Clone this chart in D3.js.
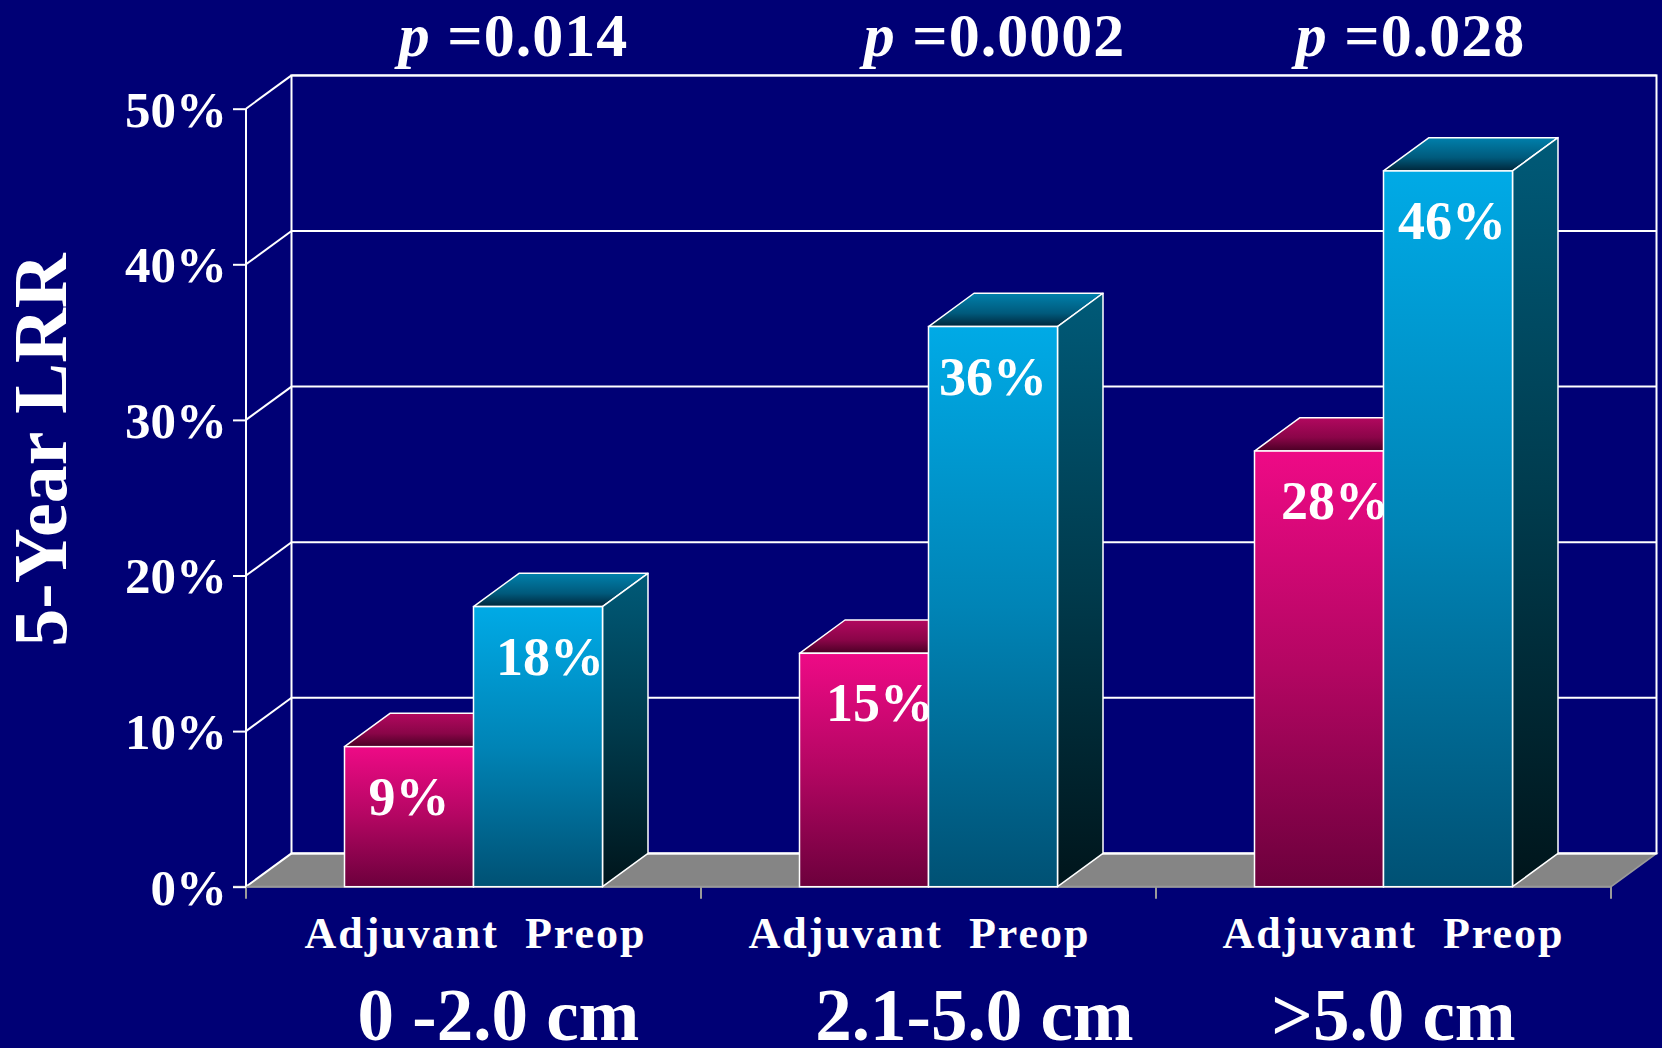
<!DOCTYPE html>
<html>
<head>
<meta charset="utf-8">
<script src="https://cdn.jsdelivr.net/npm/d3@7"></script>
<style>
  html, body { margin: 0; padding: 0; background: #000075; }
  svg { display: block; }
  text { font-family: "Liberation Serif", "Times New Roman", serif; font-weight: bold; fill: #fff; }
</style>
</head>
<body>
<svg id="chart" width="1662" height="1048"></svg>
<script>
// Five-year local-regional recurrence by tumour size and treatment sequence
const categories = ["0 -2.0 cm", "2.1-5.0 cm", ">5.0 cm"];
const series = ["Adjuvant", "Preop"];
const adjuvant = [9, 15, 28];
const preop = [18, 36, 46];
const pValues = ["0.014", "0.0002", "0.028"];
const yTicks = [0, 10, 20, 30, 40, 50];

// layout tweaks for the text blocks (px, relative to each band centre)
const pNudge = [40, 66, 27];
const sizeNudge = [25, 46, 10];
const pairNudge = [2, -9, 10];
const valueNudge = [[0, 12], [16, 0], [16, 4]];

const W = 1662, H = 1048;
const x0 = 246, x1 = 1611;          // front edge of the floor
const yBase = 886.7, yTop = 108.7;  // front 0% and 50%
const DX = 45.5, DY = 33.3;         // depth of the 3D box

const svg = d3.select("#chart");
svg.append("rect").attr("width", W).attr("height", H).attr("fill", "#000075");

const y = d3.scaleLinear().domain([0, 50]).range([yBase, yTop]);
const x = d3.scaleBand().domain(categories).range([x0, x1]).padding(0);
const xs = d3.scaleBand().domain(series).range([98.5, x.bandwidth() - 98.5]).padding(0);

// gradients
const defs = svg.append("defs");
function grad(id, stops) {
  const g = defs.append("linearGradient").attr("id", id)
    .attr("x1", 0).attr("y1", 0).attr("x2", 0).attr("y2", 1);
  stops.forEach(([o, c]) => g.append("stop").attr("offset", o).attr("stop-color", c));
}
grad("pinkFront", [[0, "#ee0a86"], [0.5, "#b30662"], [1, "#6c003c"]]);
grad("pinkTop", [[0, "#b2085f"], [0.6, "#8a0548"], [1, "#4a0025"]]);
grad("pinkSide", [[0, "#5a0030"], [1, "#1a0010"]]);
grad("blueFront", [[0, "#00aae6"], [0.5, "#0084b6"], [1, "#005174"]]);
grad("blueTop", [[0, "#0080ac"], [0.6, "#005a7c"], [1, "#00263a"]]);
grad("blueSide", [[0, "#005a78"], [0.5, "#003a4c"], [1, "#00151b"]]);

const wall = svg.append("g");
const line = (xa, ya, xb, yb, col, w) =>
  wall.append("line").attr("x1", xa).attr("y1", ya).attr("x2", xb).attr("y2", yb)
    .attr("stroke", col).attr("stroke-width", w);

// floor
wall.append("path")
  .attr("d", `M${x0},${yBase} L${x0 + DX},${yBase - DY} L${x1 + DX},${yBase - DY} L${x1},${yBase} Z`)
  .attr("fill", "#858585").attr("stroke", "#9a9a9a").attr("stroke-width", 1.5);

// back wall frame and gridlines
wall.append("rect")
  .attr("x", x0 + DX).attr("y", y(50) - DY)
  .attr("width", x1 - x0).attr("height", y(0) - y(50))
  .attr("fill", "none").attr("stroke", "#fff").attr("stroke-width", 2);
yTicks.forEach(t => {
  line(x0 + DX, y(t) - DY, x1 + DX, y(t) - DY, "#fff", 2);
  line(x0, y(t), x0 + DX, y(t) - DY, "#fff", 2);
});

// front axis with category dividers
line(x0 - 13, yBase, x1, yBase, "#9a9a9a", 2);
[x0, ...categories.map(c => x(c) + x.bandwidth())].forEach(v => line(v, yBase, v, yBase + 12, "#9a9a9a", 2));

// y axis
const yAxis = svg.append("g").attr("transform", `translate(${x0},0)`)
  .call(d3.axisLeft(y).tickValues(yTicks).tickSize(13).tickPadding(6).tickFormat(d => d + "%"));
yAxis.select(".domain").attr("stroke", "#fff").attr("stroke-width", 2).attr("d", `M0,${yBase}V${yTop}`);
yAxis.selectAll(".tick line").attr("stroke", "#fff").attr("stroke-width", 2);
yAxis.selectAll(".tick text")
  .style("font-family", '"Liberation Serif", serif').style("font-weight", "bold")
  .attr("font-size", 51).attr("fill", "#fff").attr("dy", "0.34em");

// bars
const rows = categories.map((c, i) => ({ c, i, vals: [adjuvant[i], preop[i]] }));
const kinds = ["pink", "blue"];
rows.forEach(r => {
  const g = svg.append("g");
  r.vals.forEach((v, s) => {
    const k = kinds[s];
    const bx = x(r.c) + xs(series[s]);
    const bw = xs.bandwidth();
    const ty = y(v);
    g.append("path")
      .attr("d", `M${bx},${ty} L${bx + DX},${ty - DY} L${bx + bw + DX},${ty - DY} L${bx + bw},${ty} Z`)
      .attr("fill", `url(#${k}Top)`).attr("stroke", "#fff").attr("stroke-width", 1.5).attr("stroke-linejoin", "round");
    g.append("path")
      .attr("d", `M${bx + bw},${ty} L${bx + bw + DX},${ty - DY} L${bx + bw + DX},${yBase - DY} L${bx + bw},${yBase} Z`)
      .attr("fill", `url(#${k}Side)`).attr("stroke", "#fff").attr("stroke-width", 1.5).attr("stroke-linejoin", "round");
    g.append("rect")
      .attr("x", bx).attr("y", ty).attr("width", bw).attr("height", yBase - ty)
      .attr("fill", `url(#${k}Front)`).attr("stroke", "#fff").attr("stroke-width", 1.5);
  });
  r.vals.forEach((v, s) => {
    const bx = x(r.c) + xs(series[s]) + xs.bandwidth() / 2 + valueNudge[r.i][s];
    g.append("text").attr("x", bx).attr("y", y(v) + 68)
      .attr("text-anchor", "middle").attr("font-size", 54).text(v + "%");
  });
});

// series names, size groups and p-values per band
categories.forEach((c, i) => {
  svg.append("text")
    .attr("x", x(c) + x.bandwidth() / 2 + pairNudge[i]).attr("y", 948)
    .attr("text-anchor", "middle").attr("font-size", 44).attr("letter-spacing", 2)
    .style("white-space", "pre")
    .text(series.join("  "));
  svg.append("text")
    .attr("x", x(c) + x.bandwidth() / 2 + sizeNudge[i]).attr("y", 1040)
    .attr("text-anchor", "middle").attr("font-size", 73)
    .text(c);
  const p = svg.append("text")
    .attr("x", x(c) + x.bandwidth() / 2 + pNudge[i]).attr("y", 56)
    .attr("text-anchor", "middle").attr("font-size", 62).attr("letter-spacing", 1)
    .style("white-space", "pre");
  p.append("tspan").attr("font-style", "italic").text("p");
  p.append("tspan").text(" =" + pValues[i]);
});

// y axis title
svg.append("text")
  .attr("transform", "translate(66,450) rotate(-90)")
  .attr("text-anchor", "middle").attr("font-size", 76)
  .text("5-Year LRR");
</script>
</body>
</html>
